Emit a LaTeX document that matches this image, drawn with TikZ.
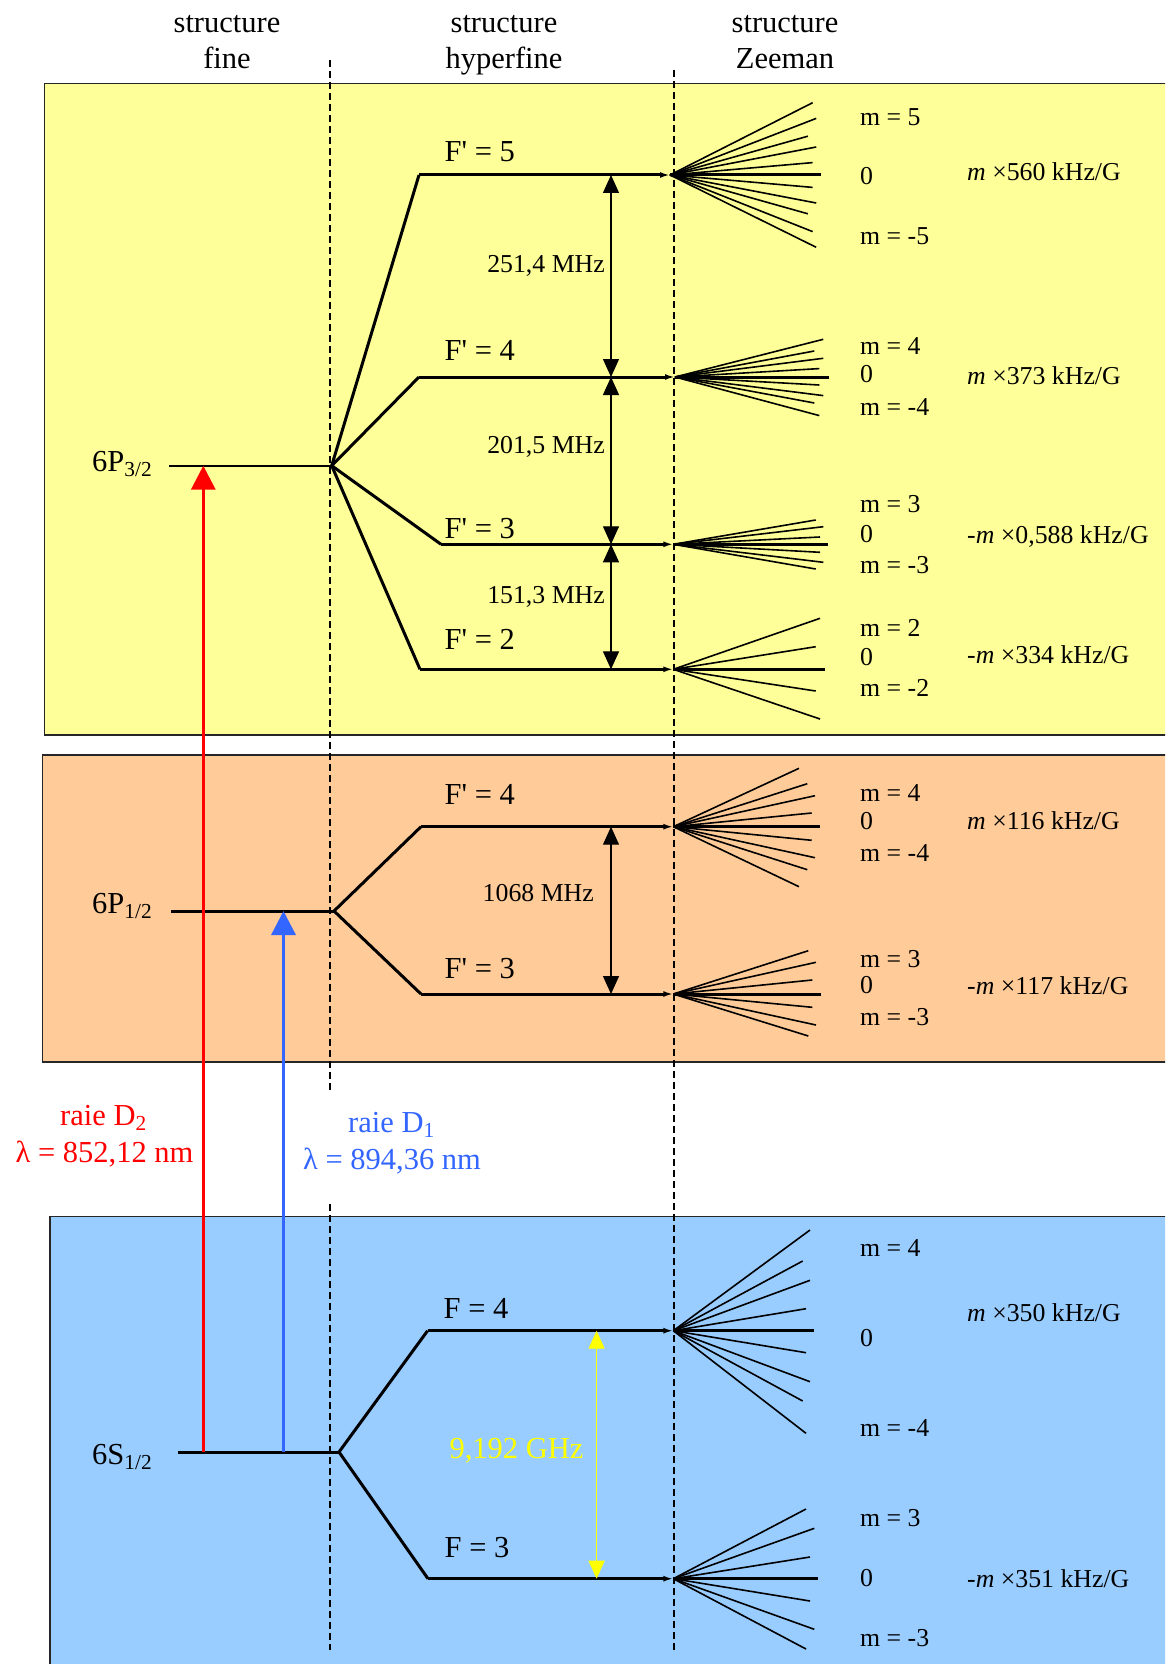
\documentclass[tikz,border=0pt]{standalone}
\usepackage{fontspec}
\setmainfont{Liberation Serif}[Ligatures=TeXOff]
\usetikzlibrary{arrows.meta}
\definecolor{yelbox}{HTML}{FFFF99}
\definecolor{orabox}{HTML}{FFCC99}
\definecolor{blubox}{HTML}{99CCFF}
\definecolor{dblue}{HTML}{3366FF}
\definecolor{hfyellow}{HTML}{FFFF00}
\tikzset{
  sm/.style={font=\fontsize{25.8}{30}\selectfont, inner sep=0pt},
  bg/.style={font=\fontsize{30.5}{36}\selectfont, inner sep=0pt},
  lvl/.style={line width=3pt, -{Latex[length=10pt,width=6pt]}},
  fork/.style={line width=3pt},
  fan/.style={line width=1.6pt},
  fanzero/.style={line width=3pt},
  dsh/.style={line width=1.2pt, dash pattern=on 7pt off 4pt},
  boxframe/.style={draw=black!85, line width=1.5pt},
  dblarrow/.style={line width=1.3pt, {Triangle[length=18pt,width=16pt]}-{Triangle[length=18pt,width=16pt]}},
  trans/.style={line width=3.3pt, -{Triangle[length=24pt,width=24pt]}}
}
\begin{document}
\begin{tikzpicture}[x=1pt,y=-1pt]
\path[use as bounding box] (0,0) rectangle (1165,1664);
\clip (0,0) rectangle (1165,1664);
\fill[white] (0,0) rectangle (1165,1664);

% boxes
\fill[yelbox, boxframe] (44.6,83.5) rectangle (1185,735);
\fill[orabox, boxframe] (42.7,755) rectangle (1185,1062);
\fill[blubox, boxframe] (49.9,1216.7) rectangle (1185,1690);

% dashed separators
\draw[dsh] (330,60) -- (330,1093);
\draw[dsh] (330,1204) -- (330,1650);
\draw[dsh] (674,70) -- (674,1652);

% headers
\node[bg, anchor=base] (h1a) at (227,33) {structure};
\node[bg, anchor=base] (h1b) at (227,68.3) {fine};
\node[bg, anchor=base] (h2a) at (504,33) {structure};
\node[bg, anchor=base] (h2b) at (504,68.3) {hyperfine};
\node[bg, anchor=base] (h3a) at (785,33) {structure};
\node[bg, anchor=base] (h3b) at (785,68.3) {Zeeman};

% coordinates of levels
\coordinate (p32a) at (169.3,465.7);
\coordinate (p32) at (331.7,465.7);
\coordinate (f5c) at (419,175);
\coordinate (f5o) at (670,175);
\coordinate (f4c) at (419,377);
\coordinate (f4o) at (675,377);
\coordinate (f3c) at (441,544.3);
\coordinate (f3o) at (673.3,544.3);
\coordinate (f2c) at (420,669.3);
\coordinate (f2o) at (673.3,669.3);
\coordinate (p12a) at (171,911);
\coordinate (p12) at (334,911);
\coordinate (g4c) at (421,826.7);
\coordinate (g4o) at (673.3,826.7);
\coordinate (g3c) at (421,994);
\coordinate (g3o) at (673.3,994);
\coordinate (s12a) at (178,1452);
\coordinate (s12) at (339,1452);
\coordinate (h4c) at (427.6,1330.7);
\coordinate (h4o) at (673.3,1330.7);
\coordinate (h3c) at (428,1578.7);
\coordinate (h3o) at (673.3,1578.7);
\coordinate (arx) at (611,0);
\coordinate (ary) at (596.6,0);
\coordinate (rx) at (203.3,0);
\coordinate (bx) at (283.5,0);

% fine levels
\draw[line width=1.7pt] (p32a) -- (p32);
\draw[fork] (p12a) -- (p12);
\draw[fork] (s12a) -- (s12);

% hyperfine levels
\draw[fork] (p32) -- (f5c);
\draw[lvl] (f5c) -- (f5o);
\draw[fork] (p32) -- (f4c);
\draw[lvl] (f4c) -- (f4o);
\draw[fork] (p32) -- (f3c);
\draw[lvl] (f3c) -- (f3o);
\draw[fork] (p32) -- (f2c);
\draw[lvl] (f2c) -- (f2o);
\draw[fork] (p12) -- (g4c);
\draw[lvl] (g4c) -- (g4o);
\draw[fork] (p12) -- (g3c);
\draw[lvl] (g3c) -- (g3o);
\draw[fork] (s12) -- (h4c);
\draw[lvl] (h4c) -- (h4o);
\draw[fork] (s12) -- (h3c);
\draw[lvl] (h3c) -- (h3o);

% Zeeman fans
\foreach \ex/\dy in {812.6/-72.3, 816.2/-56.6, 807.9/-38.8, 816.2/-28, 812.6/-12.4, 812.6/12.4, 816.2/28, 807.9/38.8, 812.6/56.6, 816.2/72.3}
  \draw[fan] (f5o) -- (\ex,{175+(\dy)});
\draw[fanzero] (f5o) -- (820.5,175);
\foreach \ex/\dy in {823.3/-37.7, 814.3/-26, 823.3/-18.7, 819.3/-8.4, 819.3/8, 823.3/18.6, 814.3/26, 819.3/38.6}
  \draw[fan] (f4o) -- (\ex,{377+(\dy)});
\draw[fanzero] (f4o) -- (829,377);
\foreach \ex/\dy in {815.7/-24.3, 823.3/-17.6, 820/-7.3, 820/8, 823.3/18, 815.7/24.7}
  \draw[fan] (f3o) -- (\ex,{544.3+(\dy)});
\draw[fanzero] (f3o) -- (827.7,544.3);
\foreach \ex/\dy in {820/-51, 815.7/-22.6, 815.7/21.7, 820/49.7}
  \draw[fan] (f2o) -- (\ex,{669.3+(\dy)});
\draw[fanzero] (f2o) -- (825,669.3);
\foreach \ex/\dy in {799/-58.4, 807.3/-43, 815/-31, 811.7/-13.7, 811.7/13.6, 815/31, 807.3/43, 799/60}
  \draw[fan] (g4o) -- (\ex,{826.7+(\dy)});
\draw[fanzero] (g4o) -- (820,826.7);
\foreach \ex/\dy in {808.3/-43.3, 816/-31.7, 812.3/-14, 812.3/13.3, 816/31, 808.3/42}
  \draw[fan] (g3o) -- (\ex,{994+(\dy)});
\draw[fanzero] (g3o) -- (821,994);
\foreach \ex/\dy in {810/-100.7, 802.7/-69.7, 810/-50.4, 806/-22, 806/22, 810/51, 802.7/70.3, 806/102.6}
  \draw[fan] (h4o) -- (\ex,{1330.7+(\dy)});
\draw[fanzero] (h4o) -- (814.3,1330.7);
\foreach \ex/\dy in {806/-69.7, 814.3/-50.4, 810/-21.7, 810/22.3, 814.3/50.6, 806/70.3}
  \draw[fan] (h3o) -- (\ex,{1578.7+(\dy)});
\draw[fanzero] (h3o) -- (818.3,1578.7);

% splitting arrows
\draw[dblarrow] (arx |- f5c) -- (arx |- f4c);
\draw[dblarrow] (arx |- f4c) -- (arx |- f3c);
\draw[dblarrow] (arx |- f3c) -- (arx |- f2c);
\draw[dblarrow] (arx |- g4c) -- (arx |- g3c);
\draw[dblarrow, draw=hfyellow, fill=hfyellow] (ary |- h4c) -- (ary |- h3c);

% optical transitions
\draw[trans, red] (rx |- s12) -- (rx |- p32);
\draw[trans, dblue] (bx |- s12) -- (bx |- p12);

% fine-structure labels
\node[bg, anchor=base west] (l32) at (92,471) {6P\textsubscript{3/2}};
\node[bg, anchor=base west] (l12) at (92,913) {6P\textsubscript{1/2}};
\node[bg, anchor=base west] (ls12) at (92,1464) {6S\textsubscript{1/2}};

% hyperfine labels
\node[bg, anchor=base west] (lf5) at (444.5,161.8) {F' = 5};
\node[bg, anchor=base west] (lf4) at (444.5,360) {F' = 4};
\node[bg, anchor=base west] (lf3) at (444.5,538.3) {F' = 3};
\node[bg, anchor=base west] (lf2) at (444.5,649) {F' = 2};
\node[bg, anchor=base west] (lg4) at (444.5,804) {F' = 4};
\node[bg, anchor=base west] (lg3) at (444.5,978) {F' = 3};
\node[bg, anchor=base west] (lh4) at (443.5,1318) {F = 4};
\node[bg, anchor=base west] (lh3) at (444.5,1557.4) {F = 3};

\node[sm, anchor=base east] (s1) at (605,272.9) {251,4 MHz};
\node[sm, anchor=base east] (s2) at (605,453.5) {201,5 MHz};
\node[sm, anchor=base east] (s3) at (605,603.7) {151,3 MHz};
\node[sm, anchor=base east] (s4) at (594,901.7) {1068 MHz};
\node[bg, anchor=base, text=hfyellow] (s5) at (516.5,1458) {9,192 GHz};

% transition labels
\node[bg, anchor=base, text=red] (d2a) at (103.5,1125) {raie D\textsubscript{2}};
\node[bg, anchor=base, text=red] (d2b) at (104.5,1162) {λ = 852,12 nm};
\node[bg, anchor=base, text=dblue] (d1a) at (391.5,1132) {raie D\textsubscript{1}};
\node[bg, anchor=base, text=dblue] (d1b) at (392,1169) {λ = 894,36 nm};

% Zeeman labels
\node[sm, anchor=base west] (z1) at (860,125.2) {m = 5};
\node[sm, anchor=base west] (z2) at (860,184.5) {0};
\node[sm, anchor=base west] (z3) at (860,244) {m = -5};
\node[sm, anchor=base west] (z4) at (967,180.4) {\textit{m} ×560 kHz/G};

\node[sm, anchor=base west] (z5) at (860,354) {m = 4};
\node[sm, anchor=base west] (z6) at (860,382.7) {0};
\node[sm, anchor=base west] (z7) at (860,415.4) {m = -4};
\node[sm, anchor=base west] (z8) at (967,384.2) {\textit{m} ×373 kHz/G};

\node[sm, anchor=base west] (z9) at (860,512.8) {m = 3};
\node[sm, anchor=base west] (z10) at (860,542.5) {0};
\node[sm, anchor=base west] (z11) at (860,573.5) {m = -3};
\node[sm, anchor=base west] (z12) at (967,543.3) {-\textit{m} ×0,588 kHz/G};

\node[sm, anchor=base west] (z13) at (860,636.5) {m = 2};
\node[sm, anchor=base west] (z14) at (860,665.1) {0};
\node[sm, anchor=base west] (z15) at (860,696.5) {m = -2};
\node[sm, anchor=base west] (z16) at (967,663) {-\textit{m} ×334 kHz/G};

\node[sm, anchor=base west] (z17) at (860,801.7) {m = 4};
\node[sm, anchor=base west] (z18) at (860,829.1) {0};
\node[sm, anchor=base west] (z19) at (860,861.2) {m = -4};
\node[sm, anchor=base west] (z20) at (967,829.7) {\textit{m} ×116 kHz/G};

\node[sm, anchor=base west] (z21) at (860,967) {m = 3};
\node[sm, anchor=base west] (z22) at (860,993.7) {0};
\node[sm, anchor=base west] (z23) at (860,1025.4) {m = -3};
\node[sm, anchor=base west] (z24) at (967,994.7) {-\textit{m} ×117 kHz/G};

\node[sm, anchor=base west] (z25) at (860,1256.7) {m = 4};
\node[sm, anchor=base west] (z26) at (860,1346.7) {0};
\node[sm, anchor=base west] (z27) at (860,1436.7) {m = -4};
\node[sm, anchor=base west] (z28) at (967,1321.7) {\textit{m} ×350 kHz/G};

\node[sm, anchor=base west] (z29) at (860,1526.7) {m = 3};
\node[sm, anchor=base west] (z30) at (860,1586.2) {0};
\node[sm, anchor=base west] (z31) at (860,1646.7) {m = -3};
\node[sm, anchor=base west] (z32) at (967,1587) {-\textit{m} ×351 kHz/G};
\end{tikzpicture}
\end{document}
